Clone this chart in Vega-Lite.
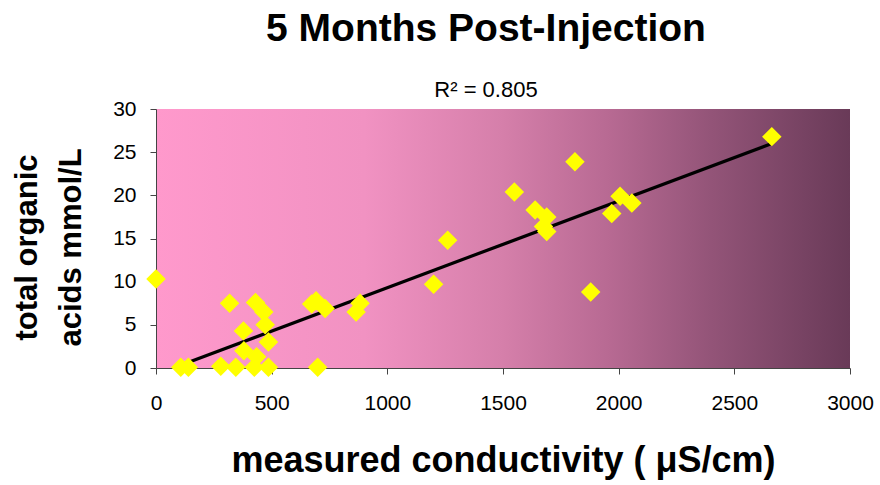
{
  "$schema": "https://vega.github.io/schema/vega-lite/v6.json",
  "autosize": "none",
  "width": 694,
  "height": 259,
  "padding": {"left": 156, "top": 109, "right": 30, "bottom": 117},
  "background": "white",
  "config": {
    "font": "Liberation Sans",
    "view": {
      "stroke": null,
      "fill": {
        "gradient": "linear",
        "x1": 0, "y1": 0, "x2": 1, "y2": 0,
        "stops": [
          {"offset": 0, "color": "#FF99CC"},
          {"offset": 0.3, "color": "#F192C2"},
          {"offset": 0.5, "color": "#D57FAA"},
          {"offset": 0.65, "color": "#B86A93"},
          {"offset": 0.8, "color": "#935478"},
          {"offset": 1, "color": "#693A58"}
        ]
      }
    },
    "axis": {
      "grid": false,
      "labelFont": "Liberation Sans",
      "labelFontSize": 21,
      "labelColor": "black",
      "domainColor": "#444",
      "tickColor": "#444",
      "tickSize": 6,
      "titleFont": "Liberation Sans",
      "titleFontWeight": "bold",
      "titleColor": "black"
    }
  },
  "title": {
    "text": "5 Months Post-Injection",
    "subtitle": "R² = 0.805",
    "font": "Liberation Sans",
    "fontSize": 39,
    "fontWeight": "bold",
    "color": "black",
    "subtitleFont": "Liberation Sans",
    "subtitleFontSize": 22,
    "subtitleColor": "black",
    "subtitlePadding": 31,
    "anchor": "middle",
    "dx": -17,
    "offset": -3
  },
  "datasets": {
    "samples": [
      {"conductivity": 0, "acids": 10.3},
      {"conductivity": 107, "acids": 0.1},
      {"conductivity": 140, "acids": 0.1},
      {"conductivity": 280, "acids": 0.2},
      {"conductivity": 345, "acids": 0.1},
      {"conductivity": 425, "acids": 0.1},
      {"conductivity": 486, "acids": 0.1},
      {"conductivity": 699, "acids": 0.1},
      {"conductivity": 318, "acids": 7.5},
      {"conductivity": 430, "acids": 7.6},
      {"conductivity": 466, "acids": 6.5},
      {"conductivity": 378, "acids": 4.3},
      {"conductivity": 472, "acids": 5.0},
      {"conductivity": 486, "acids": 3.0},
      {"conductivity": 380, "acids": 2.0},
      {"conductivity": 435, "acids": 1.3},
      {"conductivity": 673, "acids": 7.4},
      {"conductivity": 692, "acids": 7.8},
      {"conductivity": 731, "acids": 6.9},
      {"conductivity": 865, "acids": 6.5},
      {"conductivity": 882, "acids": 7.5},
      {"conductivity": 1200, "acids": 9.7},
      {"conductivity": 1261, "acids": 14.8},
      {"conductivity": 1549, "acids": 20.4},
      {"conductivity": 1639, "acids": 18.3},
      {"conductivity": 1689, "acids": 17.5},
      {"conductivity": 1675, "acids": 16.4},
      {"conductivity": 1689, "acids": 15.8},
      {"conductivity": 1811, "acids": 23.9},
      {"conductivity": 1879, "acids": 8.8},
      {"conductivity": 1970, "acids": 17.9},
      {"conductivity": 2006, "acids": 19.9},
      {"conductivity": 2057, "acids": 19.1},
      {"conductivity": 2662, "acids": 26.8}
    ],
    "trend": [
      {"conductivity": 89, "acids": 0.15},
      {"conductivity": 2662, "acids": 26.0}
    ]
  },
  "layer": [
    {
      "data": {"name": "trend"},
      "mark": {"type": "line", "color": "black", "strokeWidth": 3.2},
      "encoding": {
        "x": {
          "field": "conductivity", "type": "quantitative",
          "scale": {"domain": [0, 3000], "nice": false},
          "axis": {
            "title": "measured conductivity ( μS/cm)",
            "titleFontSize": 36,
            "titlePadding": 30,
            "values": [0, 500, 1000, 1500, 2000, 2500, 3000],
            "format": "d",
            "labelPadding": 18,
            "labelFlush": false
          }
        },
        "y": {
          "field": "acids", "type": "quantitative",
          "scale": {"domain": [0, 30], "nice": false},
          "axis": {
            "title": ["total organic", "acids mmol/L"],
            "titleFontSize": 31,
            "titleLineHeight": 44,
            "titlePadding": 25,
            "titleY": 138,
            "values": [0, 5, 10, 15, 20, 25, 30],
            "format": "d",
            "labelPadding": 14
          }
        }
      }
    },
    {
      "data": {"name": "samples"},
      "mark": {"type": "point", "shape": "diamond", "filled": true, "color": "#FFFF00", "opacity": 1, "size": 380},
      "encoding": {
        "x": {"field": "conductivity", "type": "quantitative"},
        "y": {"field": "acids", "type": "quantitative"}
      }
    }
  ]
}
